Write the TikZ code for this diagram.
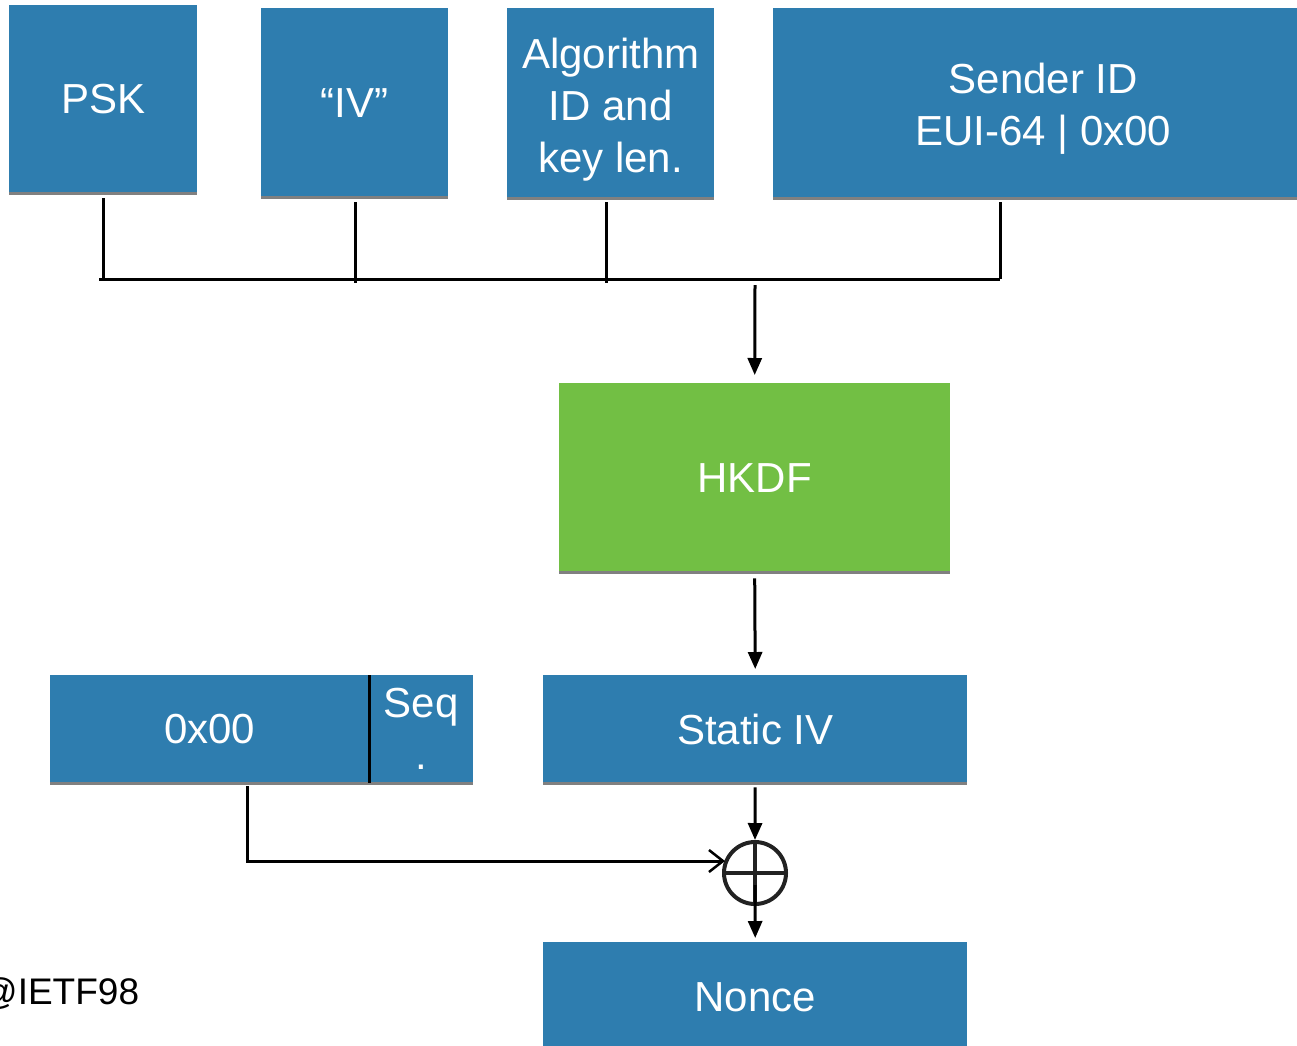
\documentclass[tikz,border=0pt]{standalone}
\usepackage{fontspec}
\setmainfont{Liberation Sans}
\usetikzlibrary{arrows.meta}
\definecolor{boxblue}{HTML}{2E7DAF}
\definecolor{boxgreen}{HTML}{72BF44}
\definecolor{edgegray}{HTML}{808080}
\definecolor{xorgray}{HTML}{222222}
\tikzset{
  block/.style={fill=boxblue, text=white, anchor=north west, inner sep=0pt,
    align=center, font=\fontsize{42}{52}\selectfont},
  kdf/.style={block, fill=boxgreen},
  baseline edge/.style={draw=edgegray, line width=3pt},
  wire/.style={draw=black, line width=3pt},
  flow/.style={wire, -{Triangle[length=17pt,width=14pt]}},
  feed/.style={wire, -{Straight Barb[length=14pt,width=22pt,line width=2.5pt]}},
  xorop/.style={circle, draw=xorgray, line width=4pt, minimum size=62pt, inner sep=0pt}
}
\begin{document}
\begin{tikzpicture}[x=1pt,y=-1pt]
\useasboundingbox (0,0) rectangle (1297,1045);
\clip (0,0) rectangle (1297,1045);

% input blocks
\node[block, minimum width=188pt, minimum height=188pt] (psk) at (9,5) {PSK};
\node[block, minimum width=187pt, minimum height=189pt] (iv) at (261,8) {“IV”};
\node[block, minimum width=207pt, minimum height=190pt, text depth=2pt] (alg) at (507,8) {\strut Algorithm\\ID and\\key len.};
\node[block, minimum width=540pt, minimum height=190pt, text depth=4pt] (sid) at (773,8) {\strut Sender ID\\EUI-64 | 0x00};

% key derivation
\node[kdf, minimum width=391pt, minimum height=189pt] (hkdf) at (559,383) {HKDF};

% IV and sequence blocks
\node[block, minimum width=424pt, minimum height=108pt] (siv) at (543,675) {Static IV};
\node[block, minimum width=319pt, minimum height=108pt] (pad) at (50,675) {0x00};
\node[block, minimum width=104pt, minimum height=108pt] (seq) at (369,675) {Seq\\.};
\node[block, minimum width=424pt, minimum height=110pt] (nonce) at (543,942) {Nonce};

% grey lower edges of the blocks
\foreach \b in {psk,iv,alg,sid,hkdf,siv,pad,seq}
  \draw[baseline edge] (\b.south west) -- (\b.south east);
\draw[wire] (seq.north west) -- (seq.south west);

% XOR operator
\node[xorop] (xor) at (755,873) {};
\draw[xorgray, line width=4pt] (xor.north) -- (xor.south) (xor.west) -- (xor.east);

% bus collecting the inputs
\coordinate (bpsk) at (103,279);
\coordinate (biv) at (355,279);
\coordinate (balg) at (606,279);
\coordinate (bsid) at (1000,279);
\draw[wire] (bpsk |- psk.south) ++(0,5) -- (bpsk);
\draw[wire] (biv |- iv.south) ++(0,5) -- (355,283);
\draw[wire] (balg |- alg.south) ++(0,4) -- (606,283);
\draw[wire] (bsid |- sid.south) ++(0,4) -- (bsid);
\draw[wire] (99,279) -- (bsid);

% flow arrows
\draw[flow] (755,285) -- ([yshift=8pt]hkdf.north);
\draw[flow] ([yshift=-6pt]hkdf.south) -- ([yshift=6pt]siv.north);
\draw[flow] ([yshift=-4pt]siv.south) -- (xor.north);
\draw[flow] ([yshift=-12pt]xor.center) -- ([yshift=4pt]nonce.north);
\coordinate (turn) at (247,861);
\draw[feed] ([yshift=-3pt]pad.south -| turn) -- (turn) -- (725,861);

% footer
\node[anchor=base west, inner sep=0pt, font=\fontsize{37}{42}\selectfont] (venue) at (-20,1004) {@IETF98};
\end{tikzpicture}
\end{document}
